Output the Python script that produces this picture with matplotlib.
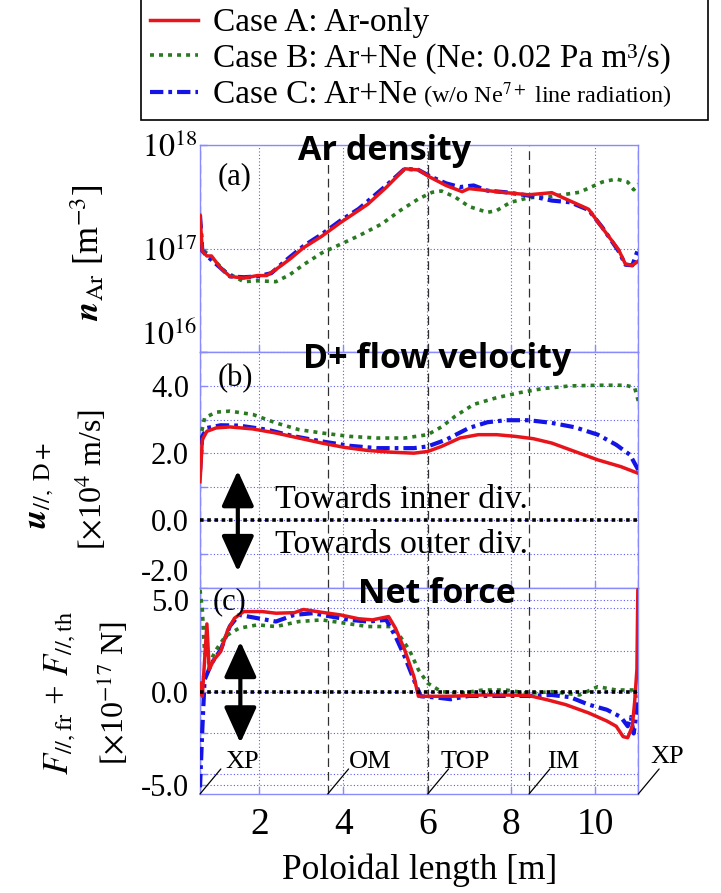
import matplotlib
matplotlib.use("Agg")
import matplotlib.pyplot as plt
from matplotlib.ticker import FixedLocator, NullLocator, FormatStrFormatter

plt.rcParams["font.family"] = ["Liberation Serif", "DejaVu Serif"]
plt.rcParams["mathtext.fontset"] = "stix"
plt.rcParams["axes.unicode_minus"] = False

# ---- data (poloidal length in m) ----
# (a) Ar density [m^-3]
xa_A = [0.59, 0.645, 0.754, 0.864, 1.082, 1.301, 1.630, 1.958, 2.177, 2.396, 2.724, 3.052, 3.490,
        3.928, 4.366, 4.585, 5.022, 5.460, 5.788, 6.062, 6.445, 6.828, 6.992, 7.430, 7.868, 8.415,
        8.962, 9.290, 9.838, 10.166, 10.549, 10.713, 10.878, 11.02]
na_A = [2.1e17, 9.5e16, 8.5e16, 8.5e16, 6.5e16, 5.4e16, 5.2e16, 5.5e16, 5.5e16, 6.3e16, 7.9e16,
        1.02e17, 1.32e17, 1.78e17, 2.34e17, 2.69e17, 3.9e17, 5.9e17, 5.75e17, 4.9e17, 4.07e17,
        3.55e17, 3.8e17, 3.63e17, 3.47e17, 3.31e17, 3.47e17, 3.02e17, 2.4e17, 1.58e17, 9.8e16,
        7.1e16, 6.9e16, 7.6e16]
xa_B = [0.59, 0.645, 0.864, 1.192, 1.630, 1.958, 2.396, 2.724, 3.052, 3.490, 3.928, 4.366, 4.913,
        5.351, 5.788, 6.117, 6.336, 6.664, 6.992, 7.430, 7.649, 7.977, 8.415, 8.962, 9.619,
        10.166, 10.494, 10.768, 10.910, 11.02]
na_B = [2.1e17, 9.9e16, 8.2e16, 6.0e16, 4.8e16, 4.9e16, 4.8e16, 5.6e16, 7.0e16, 9.1e16, 1.1e17,
        1.33e17, 1.73e17, 2.33e17, 3.02e17, 3.5e17, 3.6e17, 3.14e17, 2.55e17, 2.24e17, 2.33e17,
        2.8e17, 3.1e17, 3.2e17, 3.5e17, 4.4e17, 4.7e17, 4.4e17, 3.7e17, 4.2e17]
xa_C = [0.59, 0.645, 0.754, 1.082, 1.301, 1.630, 1.958, 2.286, 2.615, 3.052, 3.490, 3.928, 4.366,
        5.022, 5.460, 5.788, 6.062, 6.445, 6.773, 7.102, 7.430, 7.868, 8.415, 8.962, 9.400,
        9.838, 10.166, 10.549, 10.713, 10.878, 11.02]
na_C = [2.1e17, 9.5e16, 8.5e16, 6.5e16, 5.4e16, 5.3e16, 5.4e16, 5.8e16, 7.6e16, 1.06e17, 1.38e17,
        1.86e17, 2.42e17, 4.07e17, 5.9e17, 5.75e17, 5.0e17, 4.27e17, 3.93e17, 4.07e17, 3.63e17,
        3.5e17, 3.25e17, 2.91e17, 2.8e17, 2.36e17, 1.6e17, 9.5e16, 7.0e16, 6.9e16, 1.0e17]

# (b) D+ parallel flow velocity [1e4 m/s]
xb_A = [0.59, 0.645, 0.754, 0.973, 1.301, 1.849, 2.396, 2.943, 3.490, 4.037, 4.585, 5.132, 5.679,
        6.007, 6.336, 6.773, 7.211, 7.649, 8.087, 8.524, 8.962, 9.509, 10.057, 10.604, 11.02]
ub_A = [1.15, 2.4, 2.65, 2.75, 2.78, 2.72, 2.6, 2.45, 2.3, 2.17, 2.08, 2.03, 2.0, 2.05, 2.2, 2.45,
        2.55, 2.55, 2.5, 2.43, 2.3, 2.05, 1.8, 1.6, 1.4]
xb_B = [0.59, 0.699, 0.973, 1.301, 1.849, 2.396, 2.943, 3.490, 4.147, 4.803, 5.460, 6.007, 6.336,
        6.664, 7.102, 7.649, 8.196, 8.743, 9.400, 10.057, 10.713, 10.932, 11.02]
ub_B = [2.4, 3.05, 3.22, 3.25, 3.15, 2.9, 2.7, 2.6, 2.5, 2.45, 2.45, 2.55, 2.78, 3.1, 3.45, 3.65,
        3.8, 3.92, 4.0, 4.02, 4.02, 3.95, 3.55]
xb_C = [0.59, 0.645, 0.754, 1.082, 1.520, 2.177, 2.834, 3.490, 4.147, 4.803, 5.679, 6.007, 6.445,
        6.992, 7.430, 7.868, 8.415, 8.962, 9.509, 10.057, 10.494, 10.823, 11.02]
ub_C = [1.45, 2.5, 2.75, 2.83, 2.82, 2.7, 2.5, 2.35, 2.22, 2.15, 2.15, 2.2, 2.4, 2.75, 2.92, 2.98,
        2.98, 2.9, 2.77, 2.55, 2.25, 1.95, 1.5]

# (c) net force F_fr + F_th [1e-17 N]
xc_A = [0.59, 0.645, 0.754, 0.809, 0.918, 1.082, 1.247, 1.411, 1.630, 2.067, 2.396, 2.834, 3.052,
        3.490, 3.928, 4.366, 4.694, 5.077, 5.241, 5.460, 5.679, 5.788, 6.117, 6.555, 7.321, 7.868,
        8.415, 8.853, 9.290, 9.838, 10.275, 10.494, 10.659, 10.768, 10.878, 10.932, 10.987,
        11.009, 11.02]
fc_A = [0.49, -0.22, 3.69, 1.23, 1.74, 2.2, 3.35, 4.0, 4.36, 4.36, 4.27, 4.3, 4.47, 4.32, 4.18,
        3.97, 3.91, 4.09, 3.46, 2.29, 0.85, -0.22, -0.22, -0.22, -0.15, -0.15, -0.18, -0.41,
        -0.67, -1.12, -1.56, -1.84, -2.4, -2.46, -1.84, -0.56, 1.23, 5.53, 5.6]
xc_B = [0.59, 0.645, 0.699, 0.809, 0.973, 1.192, 1.520, 1.958, 2.396, 2.943, 3.490, 4.037, 4.585,
        5.132, 5.351, 5.570, 5.788, 6.007, 6.336, 6.773, 7.321, 7.868, 8.415, 8.962, 9.619,
        10.057, 10.494, 10.932, 11.02]
fc_B = [5.53, 4.47, 2.12, 1.56, 2.29, 3.02, 3.46, 3.64, 3.55, 3.82, 3.91, 3.73, 3.55, 3.55, 3.02,
        2.29, 1.21, 0.49, 0.03, -0.06, 0.12, 0.12, -0.06, 0.03, -0.15, 0.3, 0.12, 0.12, -0.95]
xc_C = [0.59, 0.645, 0.699, 0.864, 1.082, 1.301, 1.520, 1.958, 2.396, 2.834, 3.271, 3.709, 4.147,
        4.585, 5.022, 5.241, 5.460, 5.679, 5.843, 6.226, 6.555, 6.992, 7.649, 8.415, 8.962, 9.400,
        9.838, 10.275, 10.604, 10.768, 10.845, 10.910, 10.987, 11.02]
fc_C = [-5.14, -2.01, 0.67, 1.56, 2.29, 3.57, 4.18, 4.0, 3.82, 4.18, 4.27, 4.09, 3.91, 3.82, 3.91,
        3.02, 1.93, 0.67, -0.22, -0.29, -0.38, -0.2, -0.2, -0.2, -0.15, -0.27, -0.67, -0.95,
        -1.34, -1.84, -1.34, -2.23, -0.95, -0.56]

# region boundaries along the poloidal length
bounds = [0.59, 3.63, 6.01, 8.42, 11.02]
bound_names = ["XP", "OM", "TOP", "IM", "XP"]

labels = ["Case A: Ar-only", "Case B: Ar+Ne (Ne: 0.02 Pa m³/s)", "Case C: Ar+Ne"]
colors = ["#e8141b", "#2a7a22", "#1414e6"]
styles = ["-", (0, (1.1, 1.4)), (0, (3.2, 1.2, 0.9, 1.2))]
widths = [2.5, 2.6, 3.0]
zs = [5, 3, 4]

grid_c = "#5a5aff"
spine_c = "#8a8aff"

fig = plt.figure(figsize=(7.21, 8.93), dpi=100)
L, W = 0.2774, 0.6079
axa = fig.add_axes([L, 0.6055, W, 0.2321])
axb = fig.add_axes([L, 0.3419, W, 0.2636])
axc = fig.add_axes([L, 0.1109, W, 0.2310])


def style(ax):
    ax.set_xlim(0.59, 11.02)
    ax.xaxis.set_major_locator(FixedLocator([2, 4, 6, 8, 10]))
    for s in ax.spines.values():
        s.set_color(spine_c)
        s.set_linewidth(1.0)
    ax.tick_params(which="both", direction="in", color=spine_c, length=5, width=1)
    ax.grid(True, which="both", color=grid_c, linestyle=(0, (1, 2)), linewidth=0.8)
    for xb in bounds:
        ax.axvline(xb, color="#303030", lw=0.9, ls=(0, (7, 4)), zorder=1.6)


for ax in (axa, axb, axc):
    style(ax)

# (a)
for x, y, lab, c, ls, lw, z in zip([xa_A, xa_B, xa_C], [na_A, na_B, na_C], labels, colors, styles, widths, zs):
    axa.plot(x, y, color=c, ls=ls, lw=lw, zorder=z, label=lab)
axa.set_yscale("log")
axa.set_ylim(1e16, 1e18)
axa.yaxis.set_major_locator(FixedLocator([1e16, 1e17, 1e18]))
axa.yaxis.set_minor_locator(NullLocator())
axa.set_yticklabels(["$10^{16}$", "$10^{17}$", "$10^{18}$"])
axa.tick_params(axis="y", labelsize=23, pad=2)
axa.tick_params(axis="x", labelbottom=False)
axa.get_yticklabels()[0].set_verticalalignment("bottom")

# (b)
for x, y, c, ls, lw, z in zip([xb_A, xb_B, xb_C], [ub_A, ub_B, ub_C], colors, styles, widths, zs):
    axb.plot(x, y, color=c, ls=ls, lw=lw, zorder=z)
axb.set_ylim(-2, 5)
axb.yaxis.set_major_locator(FixedLocator([-2, 0, 2, 4]))
axb.yaxis.set_minor_locator(FixedLocator([-1, 1, 3, 5]))
axb.yaxis.set_major_formatter(FormatStrFormatter("%.1f"))
axb.tick_params(axis="y", labelsize=22, pad=8)
axb.tick_params(axis="x", labelbottom=False)
axb.axhline(0, color="black", ls=(0, (1, 1)), lw=2.6, zorder=6)
axb.annotate("", xy=(1.49, 1.48), xytext=(1.49, -1.52),
             arrowprops=dict(arrowstyle="<|-|>,head_length=1.1,head_width=0.5", lw=3,
                             color="black", mutation_scale=20, shrinkA=0, shrinkB=0), zorder=7)
fig.text(275 / 721, 1 - 508 / 893, "Towards inner div.", fontsize=24.5, va="baseline")
fig.text(275 / 721, 1 - 553 / 893, "Towards outer div.", fontsize=24.5, va="baseline")

# (c)
for x, y, c, ls, lw, z in zip([xc_A, xc_B, xc_C], [fc_A, fc_B, fc_C], colors, styles, widths, zs):
    axc.plot(x, y, color=c, ls=ls, lw=lw, zorder=z)
c_lo, c_hi = -5.5, 5.65
axc.set_ylim(c_lo, c_hi)
axc.yaxis.set_major_locator(FixedLocator([-5, 0, 5]))
axc.yaxis.set_minor_locator(FixedLocator([-4.4, -2.2, 2.25, 4.55]))
axc.yaxis.set_major_formatter(FormatStrFormatter("%.1f"))
axc.tick_params(axis="y", labelsize=22, pad=8)
axc.tick_params(axis="x", labelsize=27, pad=10)
axc.axhline(0, color="black", ls=(0, (1, 1)), lw=2.6, zorder=6)
axc.annotate("", xy=(1.55, 2.74), xytext=(1.55, -2.74),
             arrowprops=dict(arrowstyle="<|-|>,head_length=1.1,head_width=0.5", lw=3,
                             color="black", mutation_scale=20, shrinkA=0, shrinkB=0), zorder=7)
axc.set_xlabel("Poloidal length [m]", fontsize=25.5, labelpad=8)

text_dx = [18, 15, 9.5, 13, 9]
text_dy = [18.5, 18.5, 18.5, 18.5, 22]
for xb, name, tdx, tdy in zip(bounds, bound_names, text_dx, text_dy):
    axc.annotate("", xy=(xb, c_lo), xytext=(15, 18), textcoords="offset points",
                 arrowprops=dict(arrowstyle="-", lw=0.9, color="black", shrinkA=0, shrinkB=0),
                 annotation_clip=False)
    axc.annotate(name, xy=(xb, c_lo), xytext=(tdx, tdy), textcoords="offset points",
                 fontsize=19, va="baseline", ha="left", annotation_clip=False)

# panel titles and tags
tfont = dict(family=["Open Sans", "DejaVu Sans"], weight="bold", fontsize=24.5, ha="center", va="baseline")
fig.text(385 / 721, 1 - 160 / 893, "Ar density", **tfont)
fig.text(437 / 721, 1 - 368 / 893, "D+ flow velocity", **tfont)
fig.text(437 / 721, 1 - 603 / 893, "Net force", **tfont)
for tag, xp, yp in [("(a)", 218, 184), ("(b)", 218, 386), ("(c)", 213, 609)]:
    fig.text(xp / 721, 1 - yp / 893, tag, fontsize=22, va="baseline", ha="left")

# y labels
fig.text(88 / 721, 1 - 253 / 893, r"$\mathbfit{n}_{\mathrm{Ar}}$ [m$^{-3}$]", rotation=90, fontsize=25,
         ha="center", va="center")
fig.text(40 / 721, 1 - 485 / 893, r"$\mathbfit{u}_{//,\ \mathrm{D+}}$", rotation=90, fontsize=25,
         ha="center", va="center")
fig.text(92 / 721, 1 - 480 / 893, r"[$\times$10$^4$ m/s]", rotation=90, fontsize=23,
         ha="center", va="center")
fig.text(60 / 721, 1 - 693 / 893, r"$F_{//,\mathrm{fr}}$ + $F_{//,\mathrm{th}}$", rotation=90,
         fontsize=25, ha="center", va="center")
fig.text(113 / 721, 1 - 693 / 893, r"[$\times$10$^{-17}$ N]", rotation=90, fontsize=23,
         ha="center", va="center")

# legend
leg = fig.legend(loc="upper left", bbox_to_anchor=(140.7 / 721, 1 - 7.3 / 893, (708 - 140.7) / 721, 0.01),
                 mode="expand", borderaxespad=0, fontsize=24, frameon=True, fancybox=False,
                 edgecolor="black", framealpha=1, handlelength=1.45, handletextpad=0.45,
                 labelspacing=0.16, borderpad=0.28)
leg.get_frame().set_linewidth(1.2)

fig.canvas.draw()
# the -2.0 tick of (b) sits just above the panel edge so it clears the 5.0 of (c)
axb.get_yticklabels()[0].set_verticalalignment("bottom")
bb = leg.get_texts()[2].get_window_extent()
inv = fig.transFigure.inverted()
x1, y0 = inv.transform((bb.x1, bb.y0))
fig.text(x1 + 6 / 721, y0 + 7 / 893, r"(w/o Ne$^{7+}$ line radiation)", fontsize=17.5,
         va="baseline", zorder=10)

fig.savefig("out.png", dpi=100)
